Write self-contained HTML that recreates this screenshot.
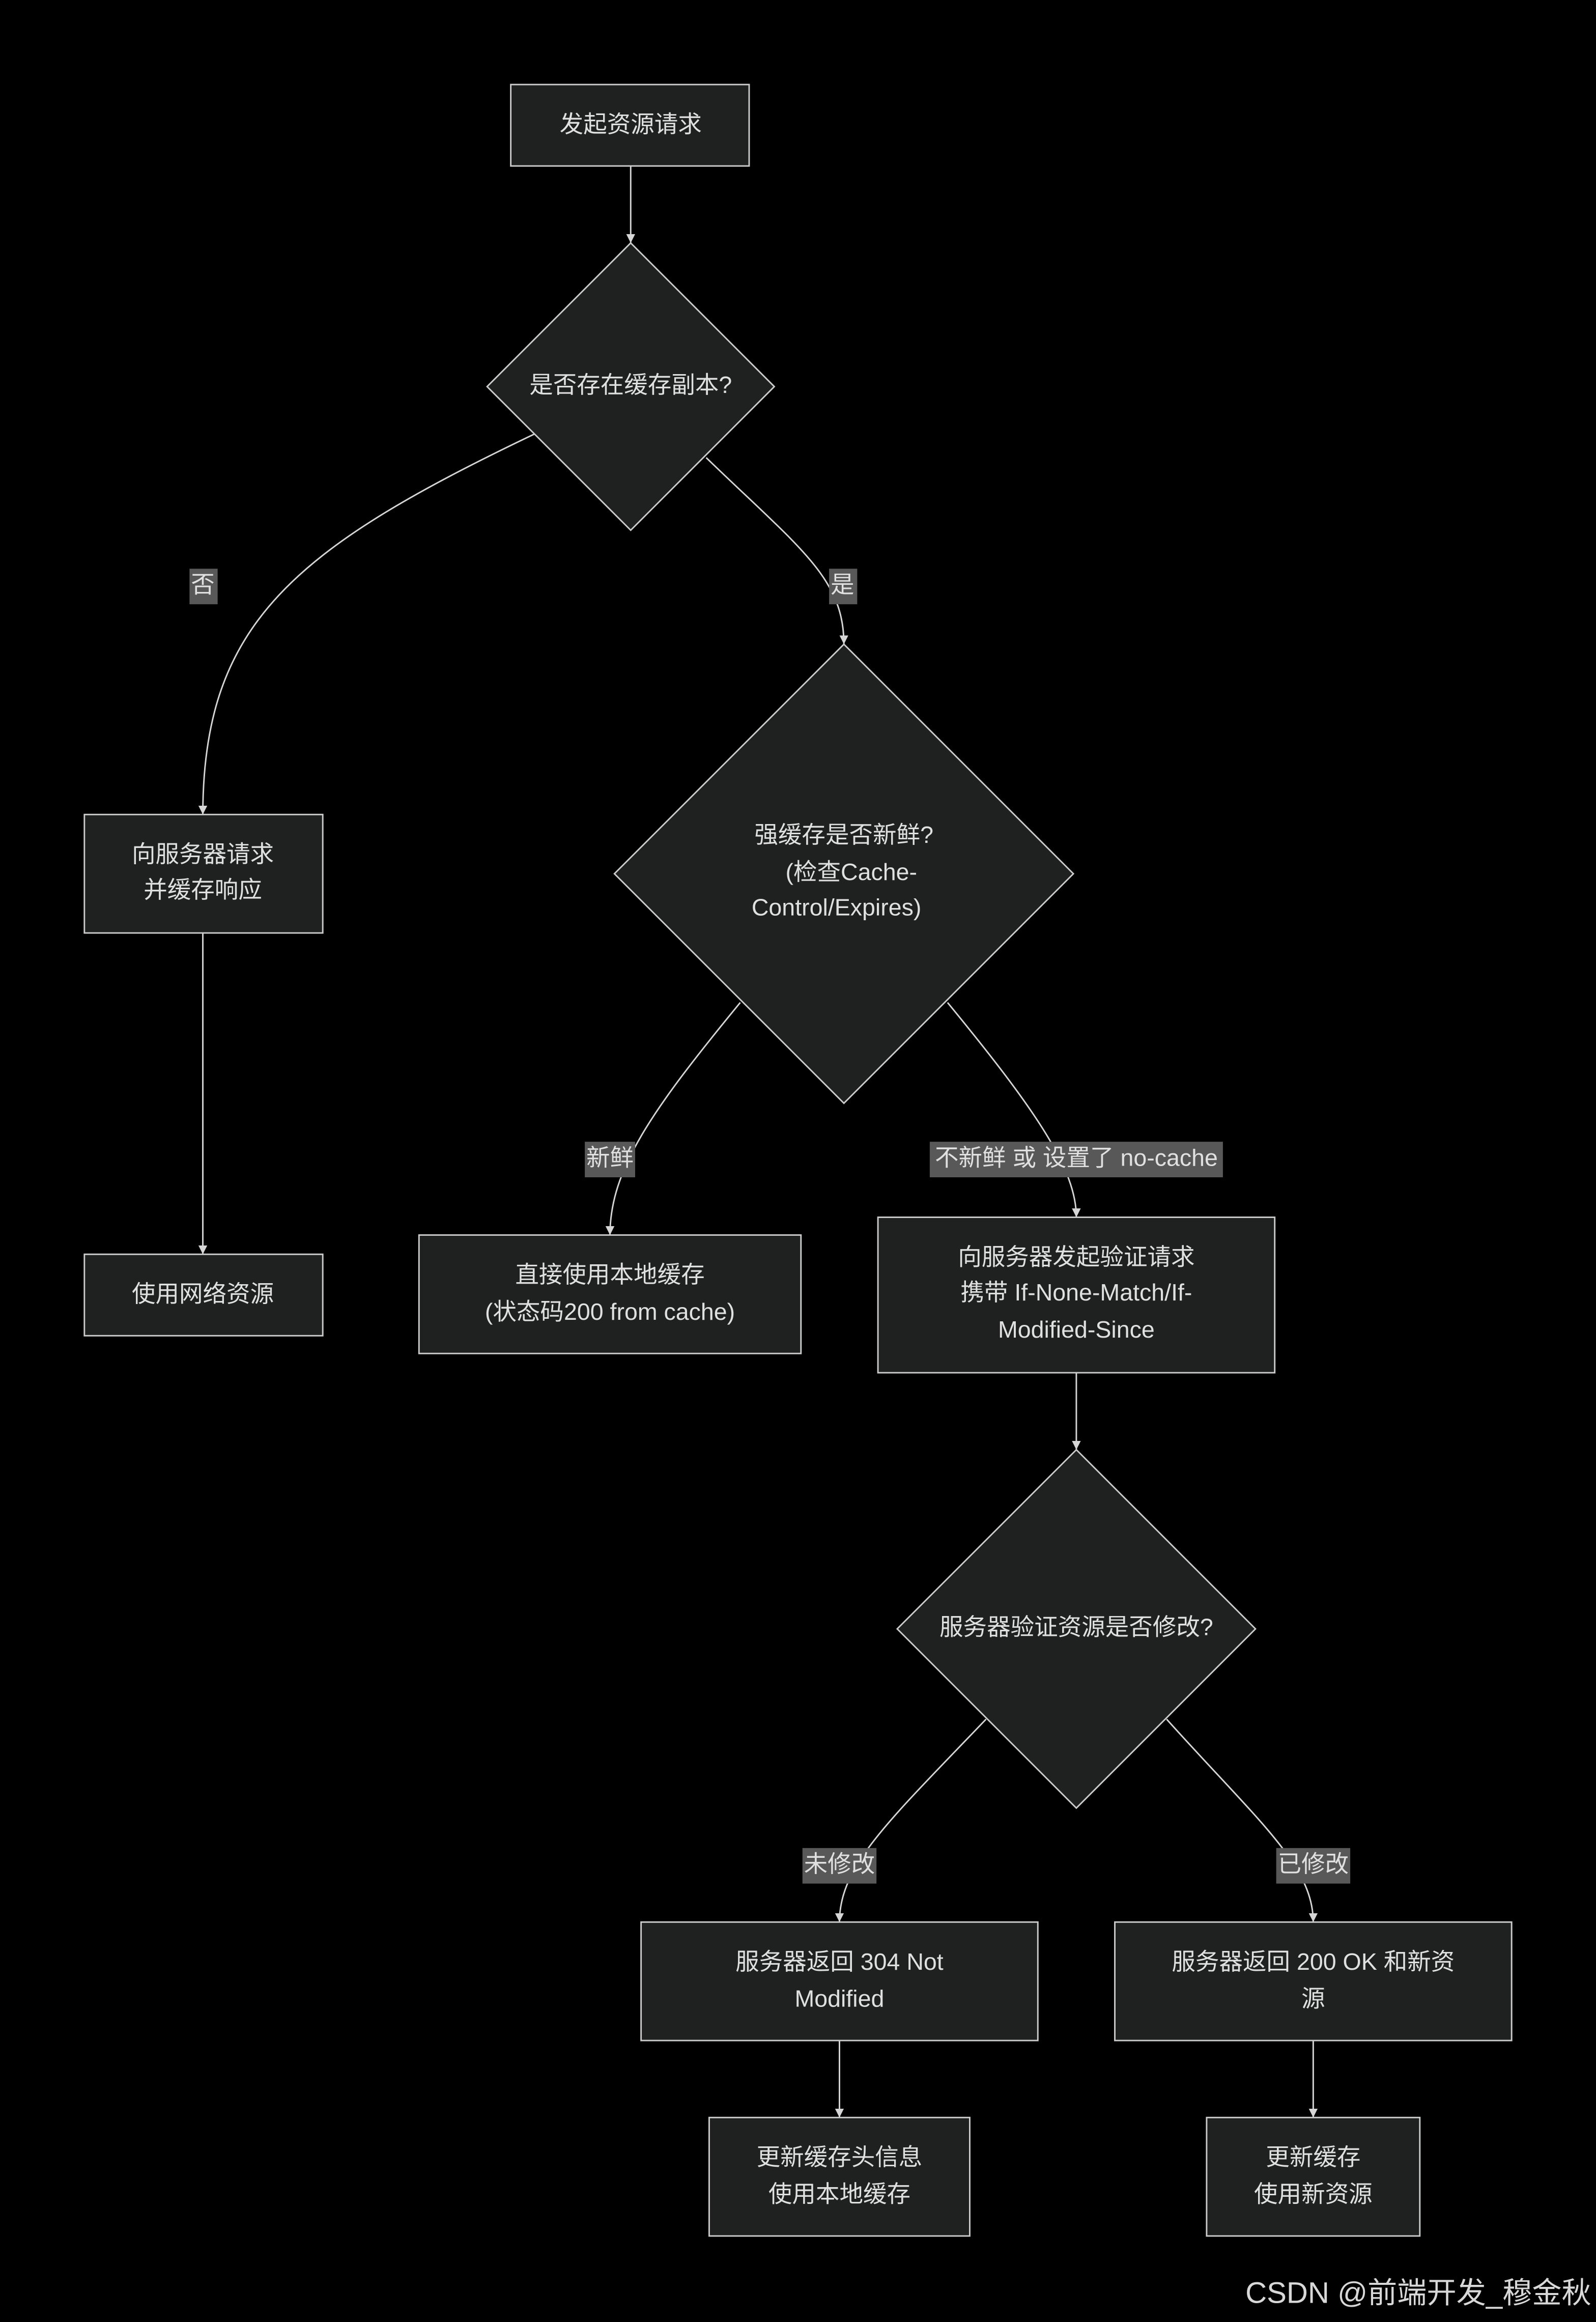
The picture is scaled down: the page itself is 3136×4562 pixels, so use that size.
<!DOCTYPE html>
<html><head><meta charset="utf-8"><style>
html,body{margin:0;padding:0;background:#000;}
svg{display:block;}
text{font-family:"Liberation Sans","Noto Sans CJK SC",sans-serif;fill:#e0e0e0;font-size:16px;text-anchor:middle;dominant-baseline:middle;}
.n{fill:#1f2020;stroke:#cccccc;stroke-width:1;}
.e{fill:none;stroke:#d6d6d6;stroke-width:1;marker-end:url(#ar);}
.lb{fill:#585858;}
</style></head><body>
<svg width="3136" height="4562" viewBox="0 0 1078 1568" xmlns="http://www.w3.org/2000/svg">
<defs><marker id="ar" viewBox="0 0 10 10" refX="10" refY="5" markerWidth="6" markerHeight="6" markerUnits="userSpaceOnUse" orient="auto"><path d="M0,0 L10,5 L0,10 z" fill="#d6d6d6"/></marker></defs>
<rect width="1078" height="1568" fill="#000"/>
<!-- edges -->
<path class="e" d="M426,112 L426,164"/>
<path class="e" d="M361,293 C200,370 137,420 137,550"/>
<path class="e" d="M477,309 C540,370 570,390 570,435"/>
<path class="e" d="M137,630 L137,847"/>
<path class="e" d="M500,677 C440,750 412,790 412,834"/>
<path class="e" d="M640,677 C700,750 727,790 727,822"/>
<path class="e" d="M727,927 L727,979"/>
<path class="e" d="M666,1161 C600,1230 567,1260 567,1298"/>
<path class="e" d="M788,1161 C850,1230 887,1260 887,1298"/>
<path class="e" d="M567,1378 L567,1430"/>
<path class="e" d="M887,1378 L887,1430"/>
<!-- nodes -->
<rect class="n" x="345" y="57" width="161" height="55"/>
<text x="426" y="85">发起资源请求</text>
<polygon class="n" points="426,164 523,261 426,358 329,261"/>
<text x="426" y="261">是否存在缓存副本?</text>
<rect class="n" x="57" y="550" width="161" height="80"/>
<text x="137" y="578">向服务器请求</text><text x="137" y="602">并缓存响应</text>
<polygon class="n" points="570,435 725,590 570,745 415,590"/>
<text x="570" y="565">强缓存是否新鲜?</text><text x="575" y="590">(检查Cache-</text><text x="565" y="614">Control/Expires)</text>
<rect class="n" x="57" y="847" width="161" height="55"/>
<text x="137" y="875">使用网络资源</text>
<rect class="n" x="283" y="834" width="258" height="80"/>
<text x="412" y="862">直接使用本地缓存</text><text x="412" y="887">(状态码200 from cache)</text>
<rect class="n" x="593" y="822" width="268" height="105"/>
<text x="727" y="850">向服务器发起验证请求</text><text x="727" y="874">携带 If-None-Match/If-</text><text x="727" y="899">Modified-Since</text>
<polygon class="n" points="727,979 848,1100 727,1221 606,1100"/>
<text x="727" y="1100">服务器验证资源是否修改?</text>
<rect class="n" x="433" y="1298" width="268" height="80"/>
<text x="567" y="1326">服务器返回 304 Not</text><text x="567" y="1351">Modified</text>
<rect class="n" x="753" y="1298" width="268" height="80"/>
<text x="887" y="1326">服务器返回 200 OK 和新资</text><text x="887" y="1351">源</text>
<rect class="n" x="479" y="1430" width="176" height="80"/>
<text x="567" y="1458">更新缓存头信息</text><text x="567" y="1483">使用本地缓存</text>
<rect class="n" x="815" y="1430" width="144" height="80"/>
<text x="887" y="1458">更新缓存</text><text x="887" y="1483">使用新资源</text>
<!-- edge labels -->
<rect class="lb" x="128" y="384" width="19" height="24"/><text x="137" y="396">否</text>
<rect class="lb" x="560" y="384" width="19" height="24"/><text x="569" y="396">是</text>
<rect class="lb" x="395" y="771" width="34" height="24"/><text x="412" y="783">新鲜</text>
<rect class="lb" x="628" y="771" width="198" height="24"/><text x="727" y="783">不新鲜 或 设置了 no-cache</text>
<rect class="lb" x="542" y="1248" width="50" height="24"/><text x="567" y="1260">未修改</text>
<rect class="lb" x="862" y="1248" width="50" height="24"/><text x="887" y="1260">已修改</text>
<text x="958" y="1550" style="font-size:20px;fill:#d8d8d8;">CSDN @前端开发_穆金秋</text>
</svg>
</body></html>
